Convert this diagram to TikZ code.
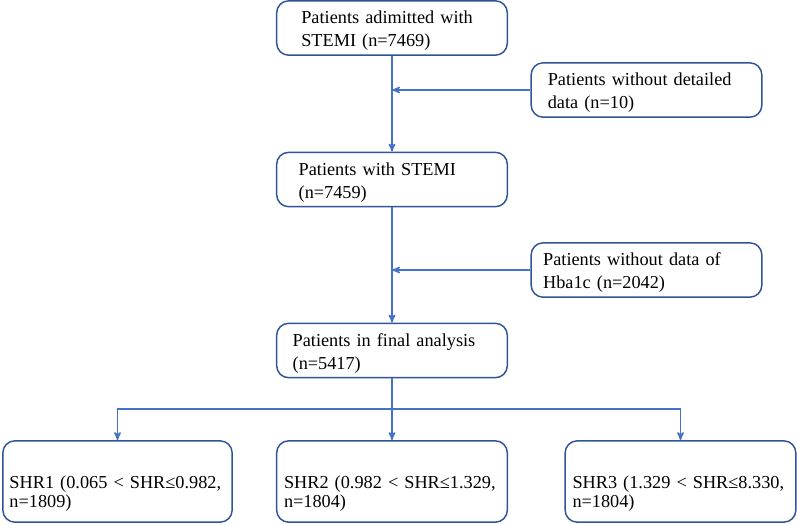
\documentclass[tikz,border=0pt]{standalone}
\usepackage{fontspec}
\setmainfont{Liberation Serif}
\usetikzlibrary{positioning, shapes, arrows}
\definecolor{boxblue}{RGB}{47,85,151}
\definecolor{lineblue}{RGB}{68,114,196}

\tikzset{
    box/.style={rectangle, draw=boxblue, line width=1.1pt, rounded corners=9pt, fill=white,
                align=left, minimum width=173pt, font=\fontsize{13.7pt}{17.2pt}\selectfont,
                execute at begin node={\rule{0pt}{14pt}}},
    groupbox/.style={box, minimum height=61pt, text width=162pt,
                font=\fontsize{13.7pt}{14.3pt}\selectfont,
                execute at begin node={\rule{0pt}{27.5pt}}},
    link/.style={->, draw=lineblue, line width=1.1pt}
}

\begin{document}
\begin{tikzpicture}[>=stealth', x=0.75pt, y=-0.75pt]
        \useasboundingbox (0,0) rectangle (797,525);

        \node at (392,28)    [box, minimum height=39pt, text width=136pt] (admitted) {Patients adimitted with\\STEMI (n=7469)};
        \node at (646.5,90)  [box, minimum height=39pt, text width=148pt] (nodetail) {Patients without detailed\\data (n=10)};
        \node at (392,179.5) [box, minimum height=38pt, text width=140pt] (stemi) {Patients with STEMI\\(n=7459)};
        \node at (646.5,270) [box, minimum height=39pt, text width=155pt] (nohba) {Patients without data of\\Hba1c (n=2042)};
        \node at (392,350.5) [box, minimum height=40pt, text width=149pt] (final) {Patients in final analysis\\(n=5417)};

        \node at (117.5,481.5) [groupbox, minimum width=172pt] (shr1) {SHR1 (0.065 < SHR≤0.982,\\n=1809)};
        \node at (392,481.5)   [groupbox] (shr2) {SHR2 (0.982 < SHR≤1.329,\\n=1804)};
        \node at (680.5,481.5) [groupbox] (shr3) {SHR3 (1.329 < SHR≤8.330,\\n=1804)};

        \coordinate (split) at (392,409);

        \draw[link] (admitted) -- (stemi);
        \draw[link] (nodetail.west) -- (nodetail.west -| admitted.south);
        \draw[link] (stemi) -- (final);
        \draw[link] (nohba.west) -- (nohba.west -| stemi.south);
        \draw[link] (final) -- (shr2);
        \draw[link] (split) -| (shr1.north);
        \draw[link] (split) -| (shr3.north);

    \end{tikzpicture}
\end{document}
